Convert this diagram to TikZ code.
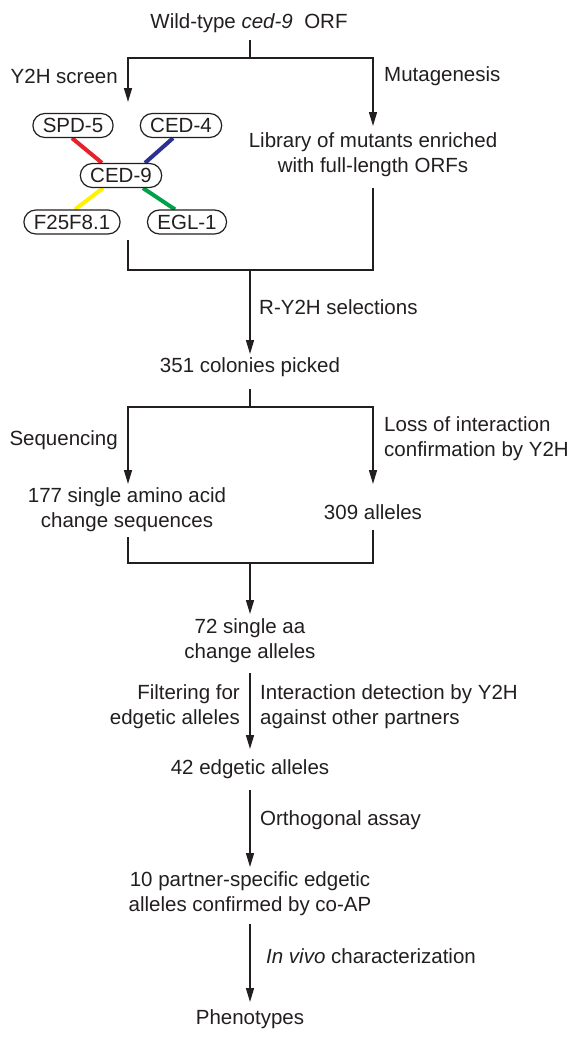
\documentclass[tikz,border=0pt]{standalone}
\usepackage{fontspec}
\setmainfont{Liberation Sans}
\usetikzlibrary{arrows.meta,shapes.misc}
\pgfdeclarelayer{bg}
\pgfsetlayers{bg,main}
\definecolor{linkred}{HTML}{E8202A}
\definecolor{linkblue}{HTML}{2B3192}
\definecolor{linkyellow}{HTML}{FFF200}
\definecolor{linkgreen}{HTML}{00A14B}
\definecolor{ink}{HTML}{231F20}
\begin{document}
\begin{tikzpicture}[x=1pt,y=-1pt,
  txt/.style={font=\fontsize{20.5}{25}\selectfont, inner sep=0pt, align=center, text=ink},
  prot/.style={draw=ink, rounded rectangle, fill=white, line width=1.2pt, inner xsep=7.5pt, inner ysep=0pt,
    minimum height=24pt, font=\fontsize{20.5}{25}\selectfont, text=ink},
  conn/.style={line width=1.5pt, draw=ink, line join=miter},
  arr/.style={conn, -{Triangle[length=14pt,width=8pt]}},
  link/.style={line width=4pt}]
\useasboundingbox (0,0) rectangle (573,1041);

% top
\node[txt] (wt) at (249,23) {Wild-type \textit{ced-9}\ \ ORF};
\coordinate (s1) at (250,40);
\coordinate (j1) at (250,58);
\coordinate (t1) at (128,102);
\coordinate (t2) at (373,126);
\draw[conn] (s1) -- (j1);
\draw[arr] (j1) -| (t1);
\draw[arr] (j1) -| (t2);
\node[txt, anchor=east] (y2h) at (118,76) {Y2H screen};
\node[txt, anchor=west] (mut) at (384,76) {Mutagenesis};

% network
\node[prot] (spd) at (73,125.5) {SPD-5};
\node[prot] (ced4) at (181,125.5) {CED-4};
\node[prot] (ced9) at (121,175.5) {CED-9};
\node[prot] (f25) at (72,222) {F25F8.1};
\node[prot] (egl) at (187,222) {EGL-1};
\begin{pgfonlayer}{bg}
\fill[white] (0,0) rectangle (573,1041);
\draw[link, linkred] ([xshift=-1pt]spd.south) -- ([xshift=-19pt]ced9.north);
\draw[link, linkblue] ([xshift=-8pt]ced4.south) -- ([xshift=24pt]ced9.north);
\draw[link, linkyellow] ([xshift=-18pt]ced9.south) -- ([xshift=3pt]f25.north);
\draw[link, linkgreen] ([xshift=22pt]ced9.south) -- ([xshift=-12pt]egl.north);
\end{pgfonlayer}

\node[txt] (lib) at (373,155) {Library of mutants enriched\\with full-length ORFs};

% merge 1
\coordinate (a2) at (373,188);
\coordinate (b2) at (128,240);
\coordinate (c2l) at (128,270);
\coordinate (c2r) at (373,270);
\coordinate (j2) at (250,270);
\coordinate (t3) at (250,354);
\draw[conn] (b2) -- (c2l) -- (c2r) -- (a2);
\draw[arr] (j2) -- (t3);
\node[txt, anchor=west] (ry2h) at (259,307) {R-Y2H selections};

\node[txt] (col) at (250,367) {351 colonies picked};

% split 2
\coordinate (s3) at (250,389);
\coordinate (j3) at (250,407);
\coordinate (t4) at (128,484);
\coordinate (t5) at (373,484);
\draw[conn] (s3) -- (j3);
\draw[arr] (j3) -| (t4);
\draw[arr] (j3) -| (t5);
\node[txt, anchor=east] (seq) at (118,440) {Sequencing};
\node[txt, anchor=west, align=left] (loss) at (384,439) {Loss of interaction\\confirmation by Y2H};

\node[txt] (aa177) at (127,510) {177 single amino acid\\change sequences};
\node[txt] (al309) at (373,512) {309 alleles};

% merge 3
\coordinate (a4) at (128,537);
\coordinate (b4) at (373,530);
\coordinate (c4l) at (128,563);
\coordinate (c4r) at (373,563);
\coordinate (j4) at (250,563);
\coordinate (t6) at (250,614);
\draw[conn] (a4) -- (c4l) -- (c4r) -- (b4);
\draw[arr] (j4) -- (t6);

\node[txt] (aa72) at (250,641) {72 single aa\\change alleles};
\coordinate (s5) at (250,673);
\coordinate (t7) at (250,749);
\draw[arr] (s5) -- (t7);
\node[txt, anchor=east, align=right] (filt) at (240,707) {Filtering for\\edgetic alleles};
\node[txt, anchor=west, align=left] (inter) at (260,707) {Interaction detection by Y2H\\against other partners};

\node[txt] (e42) at (250,769) {42 edgetic alleles};
\coordinate (s6) at (250,790);
\coordinate (t8) at (250,867);
\draw[arr] (s6) -- (t8);
\node[txt, anchor=west] (orth) at (260,820) {Orthogonal assay};

\node[txt] (p10) at (250,894) {10 partner-specific edgetic\\alleles confirmed by co-AP};
\coordinate (s7) at (250,924);
\coordinate (t9) at (250,1002);
\draw[arr] (s7) -- (t9);
\node[txt, anchor=west] (invivo) at (266,956) {\textit{In vivo} characterization};

\node[txt] (phen) at (250,1019) {Phenotypes};
\end{tikzpicture}
\end{document}
